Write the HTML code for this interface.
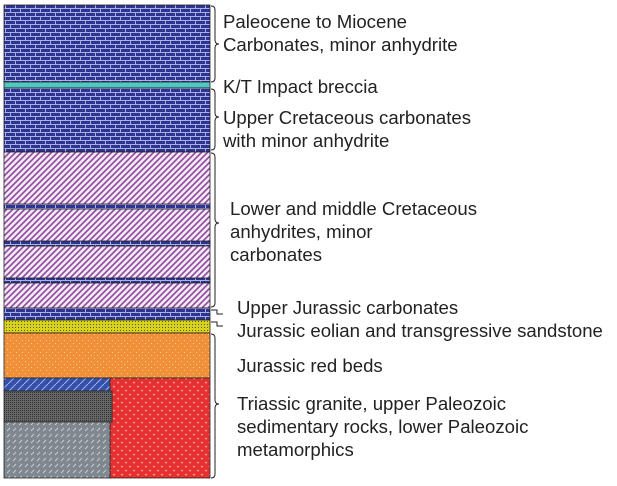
<!DOCTYPE html>
<html><head><style>body{margin:0;background:#fff}svg{display:block}</style></head><body>
<svg width="617" height="486" xmlns="http://www.w3.org/2000/svg" font-family="Liberation Sans, sans-serif" font-size="18.6" fill="#222">
<defs>
<pattern id="brick" width="10" height="8" patternUnits="userSpaceOnUse">
<rect width="10" height="8" fill="#2d3491"/>
<path d="M0 0.5H10M0 4.5H10M0.5 0V4M5.5 4V8" stroke="#aab0e0" stroke-width="1"/>
</pattern>
<pattern id="hatch" width="6" height="6" patternUnits="userSpaceOnUse">
<rect width="6" height="6" fill="#f4e8f6"/>
<path d="M-1 7L7 -1M-1 1L1 -1M5 7L7 5" stroke="#8d4a9c" stroke-width="1.6"/>
</pattern>
<pattern id="yel" width="3" height="3" patternUnits="userSpaceOnUse">
<rect width="3" height="3" fill="#d9d21a"/><rect width="1" height="1" fill="#555"/>
</pattern>
<pattern id="org" width="6" height="6" patternUnits="userSpaceOnUse">
<rect width="6" height="6" fill="#f0913a"/><rect x="1" y="1" width="1" height="1" fill="#fbc890"/><rect x="4" y="4" width="1" height="1" fill="#fbc890"/>
</pattern>
<pattern id="red" width="8" height="8" patternUnits="userSpaceOnUse">
<rect width="8" height="8" fill="#e5302f"/><path d="M1 2l1 1 1-1M5 6l1 1 1-1" stroke="#f6a0a0" fill="none"/>
</pattern>
<pattern id="bh" width="8" height="8" patternUnits="userSpaceOnUse">
<rect width="8" height="8" fill="#3550a8"/><path d="M0 8L8 0" stroke="#9cb0e8"/>
</pattern>
<pattern id="dk" width="2" height="2" patternUnits="userSpaceOnUse">
<rect width="2" height="2" fill="#666"/><rect width="1" height="1" fill="#333"/>
</pattern>
<pattern id="gr" width="6" height="6" patternUnits="userSpaceOnUse">
<rect width="6" height="6" fill="#7f878f"/><path d="M1 5L4 2" stroke="#c8ccd0"/>
</pattern>
</defs>
<g stroke="#222" stroke-width="0.8">
<rect x="4" y="5" width="206" height="77" fill="url(#brick)"/>
<rect x="4" y="82" width="206" height="6" fill="#4fc9c0"/>
<rect x="4" y="88" width="206" height="64" fill="url(#brick)"/>
<rect x="4" y="152" width="206" height="156" fill="url(#hatch)"/>
<rect x="4" y="204" width="206" height="5" fill="url(#brick)"/>
<rect x="4" y="241" width="206" height="5" fill="url(#brick)"/>
<rect x="4" y="278" width="206" height="5" fill="url(#brick)"/>
<rect x="4" y="308" width="206" height="12" fill="url(#brick)"/>
<rect x="4" y="320" width="206" height="13" fill="url(#yel)"/>
<rect x="4" y="333" width="206" height="45" fill="url(#org)"/>
<rect x="110" y="378" width="100" height="100" fill="url(#red)"/>
<rect x="4" y="378" width="106" height="13" fill="url(#bh)"/>
<rect x="4" y="391" width="108" height="31" fill="url(#dk)"/>
<rect x="4" y="422" width="106" height="56" fill="url(#gr)"/>
</g>
<g fill="none" stroke="#222" stroke-width="1">
<path d="M211 6q4 0 4 4v30q0 4 4 4q-4 0-4 4v30q0 4-4 4"/>
<path d="M211 89q4 0 4 4v20q0 4 4 4q-4 0-4 4v25q0 4-4 4"/>
<path d="M211 153q4 0 4 4v62q0 4 4 4q-4 0-4 4v76q0 4-4 4"/>
<path d="M211 310h6v4h6M211 322h6v4h6"/>
<path d="M211 334q4 0 4 4v62q0 4 4 4q-4 0-4 4v66q0 4-4 4"/>
</g>
<text x="223" y="28">Paleocene to Miocene</text>
<text x="223" y="51">Carbonates, minor anhydrite</text>
<text x="223" y="93">K/T Impact breccia</text>
<text x="223" y="124">Upper Cretaceous carbonates</text>
<text x="223" y="147">with minor anhydrite</text>
<text x="230" y="215">Lower and middle Cretaceous</text>
<text x="230" y="238">anhydrites, minor</text>
<text x="230" y="261">carbonates</text>
<text x="237" y="314">Upper Jurassic carbonates</text>
<text x="237" y="337">Jurassic eolian and transgressive sandstone</text>
<text x="237" y="372">Jurassic red beds</text>
<text x="237" y="410">Triassic granite, upper Paleozoic</text>
<text x="237" y="433">sedimentary rocks, lower Paleozoic</text>
<text x="237" y="456">metamorphics</text>
</svg>
</body></html>
